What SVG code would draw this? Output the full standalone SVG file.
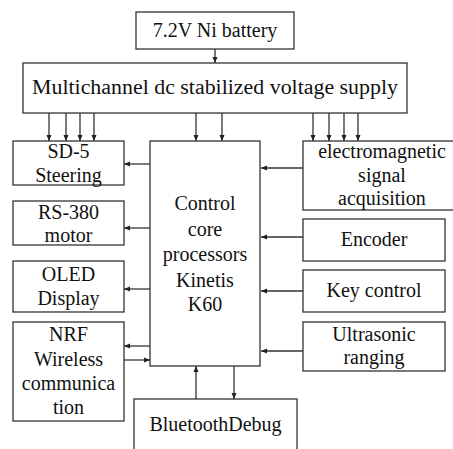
<svg xmlns="http://www.w3.org/2000/svg" width="453" height="449" viewBox="0 0 453 449" font-family="'Liberation Serif', 'Times New Roman', Times, serif">
<style>
.box{fill:#fff;stroke:#333;stroke-width:1.3}
.ln{stroke:#333;stroke-width:1.3;fill:none;marker-end:url(#ah)}
text{font-size:20px;fill:#111;text-anchor:middle}
</style>
<defs>
<marker id="ah" viewBox="0 0 6 6" refX="6" refY="3" markerWidth="6" markerHeight="6" markerUnits="userSpaceOnUse" orient="auto">
<path d="M0,0.5 L6,3 L0,5.5 Z" fill="#222"/>
</marker>
</defs>
<rect width="453" height="449" fill="#fff"/>
<g id="connectors">
<line class="ln" x1="215" y1="49" x2="215" y2="63"/>
<line class="ln" x1="49" y1="113" x2="49" y2="141"/>
<line class="ln" x1="66" y1="113" x2="66" y2="141"/>
<line class="ln" x1="80" y1="113" x2="80" y2="141"/>
<line class="ln" x1="94" y1="113" x2="94" y2="141"/>
<line class="ln" x1="196" y1="113" x2="196" y2="141"/>
<line class="ln" x1="222" y1="113" x2="222" y2="141"/>
<line class="ln" x1="313" y1="113" x2="313" y2="141"/>
<line class="ln" x1="329" y1="113" x2="329" y2="141"/>
<line class="ln" x1="344" y1="113" x2="344" y2="141"/>
<line class="ln" x1="358" y1="113" x2="358" y2="141"/>
<line class="ln" x1="150" y1="164" x2="124" y2="164"/>
<line class="ln" x1="150" y1="228" x2="124" y2="228"/>
<line class="ln" x1="150" y1="289" x2="124" y2="289"/>
<line class="ln" x1="150" y1="346" x2="124" y2="346"/>
<line class="ln" x1="124" y1="360" x2="150" y2="360"/>
<line class="ln" x1="303" y1="168" x2="261" y2="168"/>
<line class="ln" x1="303" y1="237" x2="261" y2="237"/>
<line class="ln" x1="303" y1="291" x2="261" y2="291"/>
<line class="ln" x1="303" y1="351" x2="261" y2="351"/>
<line class="ln" x1="196" y1="399" x2="196" y2="366"/>
<line class="ln" x1="234" y1="366" x2="234" y2="399"/>
</g>
<g id="battery"><rect class="box" x="136" y="12" width="158" height="37"/><text x="215" y="37">7.2V Ni battery</text></g>
<g id="supply"><rect class="box" x="23" y="63" width="384" height="50"/><text x="215" y="94" textLength="366" lengthAdjust="spacingAndGlyphs">Multichannel dc stabilized voltage supply</text></g>
<g id="control"><rect class="box" x="150" y="141" width="110" height="225"/>
<text x="205" y="210">Control</text><text x="205" y="236">core</text><text x="205" y="261">processors</text><text x="205" y="287">Kinetis</text><text x="205" y="311">K60</text></g>
<g id="sd5"><rect class="box" x="13" y="141" width="111" height="44"/><text x="68.5" y="158">SD-5</text><text x="68.5" y="182">Steering</text></g>
<g id="rs380"><rect class="box" x="13" y="201" width="111" height="44"/><text x="68.5" y="219">RS-380</text><text x="68.5" y="242">motor</text></g>
<g id="oled"><rect class="box" x="13" y="261" width="111" height="51"/><text x="68.5" y="281">OLED</text><text x="68.5" y="305">Display</text></g>
<g id="nrf"><rect class="box" x="13" y="322" width="111" height="99"/><text x="68.5" y="341">NRF</text><text x="68.5" y="366">Wireless</text><text x="68.5" y="390">communica</text><text x="68.5" y="414">tion</text></g>
<g id="em"><rect class="box" x="303" y="141" width="160" height="69"/><text x="382" y="158">electromagnetic</text><text x="382" y="182">signal</text><text x="382" y="205">acquisition</text></g>
<g id="encoder"><rect class="box" x="303" y="219" width="142" height="42"/><text x="374" y="246">Encoder</text></g>
<g id="key"><rect class="box" x="303" y="270" width="142" height="42"/><text x="374" y="297">Key control</text></g>
<g id="ultra"><rect class="box" x="303" y="322" width="142" height="49"/><text x="374" y="341">Ultrasonic</text><text x="374" y="364">ranging</text></g>
<g id="bt"><rect class="box" x="134" y="399" width="163" height="54"/><text x="215.5" y="431">BluetoothDebug</text></g>
</svg>
